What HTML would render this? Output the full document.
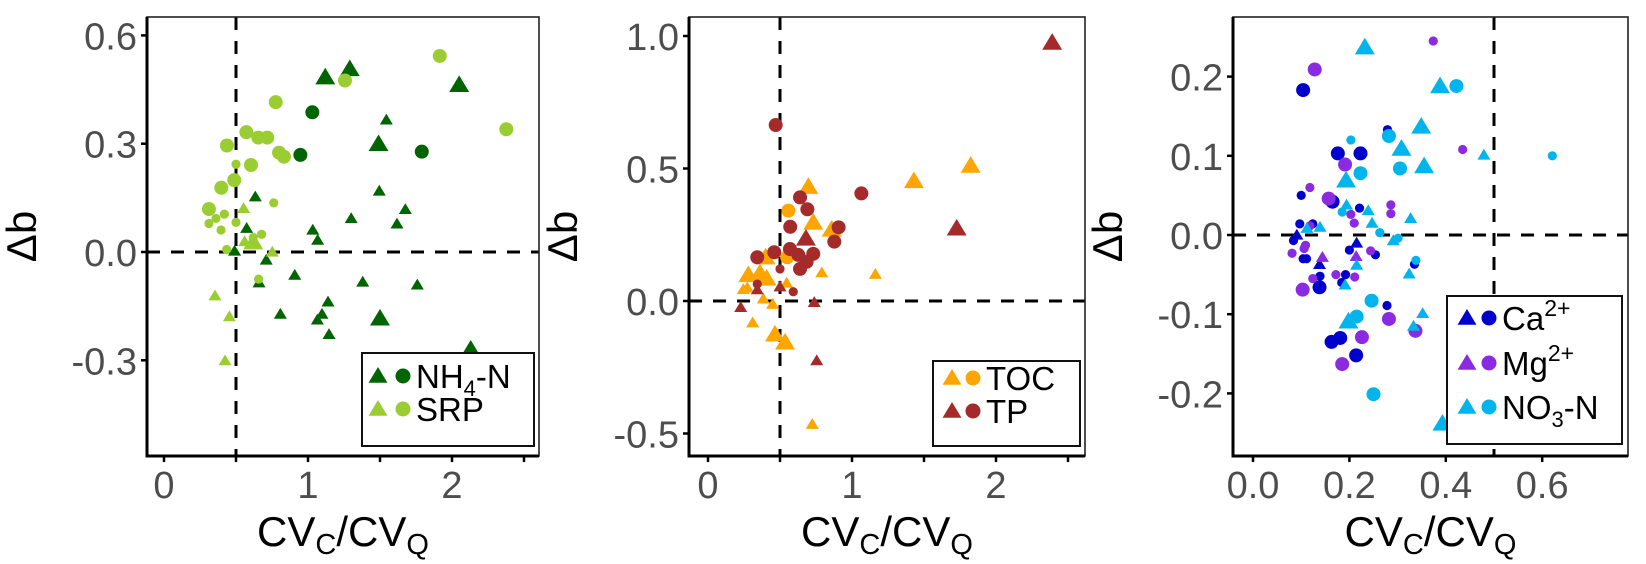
<!DOCTYPE html>
<html><head><meta charset="utf-8"><style>
html,body{margin:0;padding:0;background:#fff;width:1646px;height:564px;overflow:hidden}
svg{display:block;font-family:"Liberation Sans",Arial,sans-serif}
</style></head><body>
<svg id="chart" width="1646" height="564" viewBox="0 0 1646 564" xmlns="http://www.w3.org/2000/svg"></svg>
<script>
// ---------- Panel 1 data (NH4-N, SRP) ----------
const nh4Shape = ['t','t','t','t','t','t','c','c','c','t','t','t','t','t','t','t','t','t','t','t','t','t','t','t','t','t','t','t','t'];
const nh4Size  = [1,1,1,1,1,1,1,1,1,0,0,0,0,0,0,0,0,0,0,0,0,0,0,0,0,0,0,0,0];
const nh4X = [1.12,1.29,2.05,1.49,1.50,2.13,1.03,0.947,1.79,1.544,1.495,1.676,1.30,1.618,0.634,0.574,1.033,1.067,0.49,0.71,0.908,0.66,1.38,1.759,1.139,0.808,1.097,1.065,1.146];
const nh4Y = [0.484,0.507,0.463,0.299,-0.184,-0.27,0.387,0.269,0.278,0.366,0.169,0.118,0.093,0.078,0.153,0.066,0.061,0.033,0.003,-0.022,-0.064,-0.085,-0.083,-0.091,-0.138,-0.172,-0.172,-0.188,-0.228];
const srpShape = ['c','c','c','c','c','c','c','c','c','c','c','c','c','c','c','c','c','c','c','c','c','c','c','c','c','t','t','t','t','t','t','t'];
const srpSize  = [1,1,1,1,1,1,1,1,1,1,1,1,1,1,0,0,0,0,0,0,0,0,0,0,0,0,0,1,0,0,0,0];
const srpX = [1.915,1.257,0.776,2.377,0.572,0.655,0.717,0.437,0.799,0.833,0.604,0.488,0.398,0.312,0.50,0.762,0.419,0.361,0.312,0.50,0.396,0.678,0.62,0.435,0.657,0.553,0.56,0.62,0.752,0.354,0.454,0.424];
const srpY = [0.543,0.475,0.415,0.340,0.332,0.317,0.317,0.295,0.275,0.264,0.241,0.199,0.178,0.119,0.243,0.136,0.105,0.093,0.079,0.082,0.061,0.049,0.04,0.007,-0.075,0.121,0.029,0.027,0.0,-0.121,-0.179,-0.301];
// ---------- Panel 2 data (TOC, TP) ----------
const tocShape = ['t','t','t','t','t','t','t','t','t','t','t','c','c','t','t','t','t','t','t','t','t','t'];
const tocSize  = [1,1,1,1,1,1,1,1,1,1,1,1,1,0,0,0,0,0,0,0,0,0];
const tocX = [0.697,1.43,1.824,0.731,0.859,0.28,0.361,0.407,0.465,0.535,0.40,0.558,0.55,0.79,1.162,0.245,0.273,0.546,0.384,0.449,0.31,0.724];
const tocY = [0.431,0.453,0.511,0.296,0.27,0.098,0.105,0.085,-0.126,-0.156,0.165,0.341,0.165,0.107,0.101,0.044,0.05,0.068,0.008,-0.012,-0.082,-0.465];
const tpShape = ['t','t','t','c','c','c','c','c','c','c','c','c','c','c','c','c','c','c','c','c','t','t','t','t','t'];
const tpSize  = [1,1,1,1,1,1,1,1,1,1,1,1,1,1,1,1,1,0,0,0,0,0,0,0,0];
const tpX = [2.39,1.727,0.68,0.47,1.065,0.639,0.69,0.907,0.571,0.877,0.342,0.46,0.569,0.627,0.731,0.685,0.639,0.50,0.342,0.592,0.342,0.5,0.227,0.738,0.755];
const tpY = [0.975,0.274,0.236,0.664,0.406,0.391,0.346,0.278,0.28,0.224,0.165,0.184,0.196,0.174,0.178,0.148,0.121,0.121,0.064,0.035,0.043,0.054,-0.024,-0.005,-0.225];
// ---------- Panel 3 data (Ca, Mg, NO3-N) ----------
const caShape = ['c','c','c','c','c','c','c','c','c','c','c','c','c','c','c','c','c','c','c','c','c','c','c','t','t','t'];
const caSize  = [1,1,1,1,1,1,1,1,0,0,0,0,0,0,0,0,0,0,0,0,0,0,0,0,0,0];
const caX = [0.104,0.176,0.223,0.165,0.138,0.163,0.181,0.214,0.10,0.097,0.124,0.084,0.104,0.111,0.2,0.254,0.221,0.279,0.139,0.192,0.184,0.335,0.278,0.215,0.138,0.091];
const caY = [0.183,0.103,0.103,0.042,-0.066,-0.135,-0.13,-0.152,0.05,0.014,0.014,-0.007,-0.03,-0.03,-0.019,-0.025,0.034,0.133,-0.052,-0.05,-0.06,-0.037,-0.089,-0.01,-0.037,0.0];
const mgShape = ['c','c','c','c','c','c','c','c','c','c','c','c','c','c','c','c','c','c','c','c','c','c','c','t','t'];
const mgSize  = [1,1,1,1,1,1,1,1,0,0,0,0,0,0,0,0,0,0,0,0,0,0,0,0,0];
const mgX = [0.128,0.191,0.157,0.103,0.282,0.226,0.185,0.337,0.374,0.435,0.118,0.286,0.286,0.203,0.21,0.118,0.109,0.106,0.081,0.244,0.172,0.211,0.124,0.144,0.214];
const mgY = [0.209,0.089,0.046,-0.069,-0.106,-0.129,-0.163,-0.121,0.245,0.108,0.06,0.038,0.027,0.026,0.015,0.0115,-0.013,-0.017,-0.023,-0.02,-0.05,-0.053,-0.055,-0.028,-0.027];
const no3Shape = ['t','t','t','t','t','t','t','t','c','c','c','c','c','c','c','c','c','c','c','c','c','t','t','t','t','t','t','t','t','t','t','t','t','t'];
const no3Size  = [1,1,1,1,1,1,1,1,1,1,1,1,1,1,1,0,0,0,0,0,0,0,0,0,0,0,0,0,0,0,0,0,0,0];
const no3X = [0.232,0.388,0.349,0.308,0.355,0.193,0.198,0.393,0.422,0.282,0.223,0.305,0.246,0.215,0.25,0.203,0.621,0.185,0.263,0.301,0.338,0.479,0.194,0.239,0.247,0.327,0.112,0.139,0.291,0.215,0.324,0.191,0.352,0.333];
const no3Y = [0.237,0.188,0.137,0.109,0.087,0.069,-0.109,-0.238,0.188,0.125,0.078,0.084,-0.083,-0.103,-0.201,0.12,0.1,0.029,0.003,-0.004,-0.032,0.101,0.038,0.031,0.015,0.021,0.0085,0.01,-0.007,-0.038,-0.049,-0.063,-0.099,-0.115];
// ---------- Axis ticks ----------
const p1XTicks = [0,0.5,1,1.5,2,2.5];
const p1XLabels = ['0','','1','','2',''];
const p1YTicks = [-0.3,0,0.3,0.6];
const p1YLabels = ['-0.3','0.0','0.3','0.6'];
const p2XTicks = [0,0.5,1,1.5,2,2.5];
const p2XLabels = ['0','','1','','2',''];
const p2YTicks = [-0.5,0,0.5,1.0];
const p2YLabels = ['-0.5','0.0','0.5','1.0'];
const p3XTicks = [0,0.2,0.4,0.6];
const p3XLabels = ['0.0','0.2','0.4','0.6'];
const p3YTicks = [-0.2,-0.1,0,0.1,0.2];
const p3YLabels = ['-0.2','-0.1','0.0','0.1','0.2'];

const NS='http://www.w3.org/2000/svg';
const svg=document.getElementById('chart');
function mk(tag,attrs,parent){const e=document.createElementNS(NS,tag);for(const k in attrs)e.setAttribute(k,attrs[k]);(parent||svg).appendChild(e);return e;}

function panel(cfg){
  const g=mk('g',{});
  
  
  const sx=v=>cfg.x0+v*cfg.xk, sy=v=>cfg.y0-v*cfg.yk;
  const clipId='clip-'+cfg.name;
  const cp=mk('clipPath',{id:clipId},g);
  mk('rect',{x:cfg.L,y:cfg.T,width:cfg.R-cfg.L,height:cfg.B-cfg.T},cp);
  const plot=mk('g',{'clip-path':'url(#'+clipId+')'},g);
  // reference lines
  const vl=mk('line',{x1:sx(0.5),x2:sx(0.5),y1:cfg.T,y2:cfg.B,stroke:'#000','stroke-width':3,'stroke-dasharray':'13,11'},plot);
  
  
  const hl=mk('line',{x1:cfg.L,x2:cfg.R,y1:sy(0),y2:sy(0),stroke:'#000','stroke-width':3,'stroke-dasharray':'13,11'},plot);
  
  
  // series
  cfg.series.forEach(s=>{
    const sg=mk('g',{},plot);
    
    
    for(let i=0;i<s.x.length;i++){
      const cx=sx(s.x[i]), cy=sy(s.y[i]);
      let el;
      if(s.shape[i]==='c'){
        el=mk('circle',{cx:cx,cy:cy,r:s.size[i]?7:4.6,fill:s.color},sg);
      }else{
        const a=s.size[i]?9.5:6.2;
        el=mk('polygon',{points:`${cx},${cy-a} ${cx-a*1.05},${cy+a*0.75} ${cx+a*1.05},${cy+a*0.75}`,fill:s.color},sg);
      }
      
      
    }
  });
  // frame
  mk('rect',{x:cfg.L,y:cfg.T,width:cfg.R-cfg.L,height:cfg.B-cfg.T,fill:'none',stroke:'#222','stroke-width':1.6},g);
  const ya=mk('line',{x1:cfg.L,x2:cfg.L,y1:cfg.T,y2:cfg.B+1.5,stroke:'#000','stroke-width':3},g);
  
  
  const xa=mk('line',{x1:cfg.L-1.5,x2:cfg.R,y1:cfg.B,y2:cfg.B,stroke:'#000','stroke-width':3},g);
  
  
  // ticks
  cfg.xt.forEach((v,i)=>{
    mk('line',{x1:sx(v),x2:sx(v),y1:cfg.B,y2:cfg.B+6,stroke:'#000','stroke-width':2.5},g);
    if(cfg.xl[i]){const t=mk('text',{x:sx(v),y:cfg.B+42,'text-anchor':'middle','font-size':38,fill:'#4d4d4d'},g);t.textContent=cfg.xl[i];
      
      }
  });
  cfg.yt.forEach((v,i)=>{
    mk('line',{x1:cfg.L-6,x2:cfg.L,y1:sy(v),y2:sy(v),stroke:'#000','stroke-width':2.5},g);
    const t=mk('text',{x:cfg.L-10,y:sy(v)+14,'text-anchor':'end','font-size':38,fill:'#4d4d4d'},g);t.textContent=cfg.yl[i];
    
    
  });
  // axis titles
  const yt=mk('text',{x:0,y:0,transform:`translate(${cfg.ylabX+14},${(cfg.T+cfg.B)/2}) rotate(-90)`,'text-anchor':'middle','font-size':42,fill:'#000'},g);
  yt.textContent='Δb';
  
  
  const xt=mk('text',{x:(cfg.L+cfg.R)/2,y:546,'text-anchor':'middle','font-size':42,fill:'#000'},g);
  xt.innerHTML='CV<tspan font-size="29" dy="8">C</tspan><tspan dy="-8">/CV</tspan><tspan font-size="29" dy="8">Q</tspan>';
  
  
  // legend
  const lg=mk('g',{},g);
  
  
  const L=cfg.leg;
  mk('rect',{x:L.x,y:L.y,width:L.w,height:L.h,fill:'#fff',stroke:'#111','stroke-width':2},lg);
  cfg.series.forEach((s,i)=>{
    const cy=L.rows[i];
    const e=mk('g',{},lg);
    
    
    const a=9;
    mk('polygon',{points:`${L.tx},${cy-a} ${L.tx-a*1.05},${cy+a*0.75} ${L.tx+a*1.05},${cy+a*0.75}`,fill:s.color},e);
    mk('circle',{cx:L.cx,cy:cy,r:7.5,fill:s.color},e);
    const t=mk('text',{x:L.cx+13,y:cy+12,'font-size':33,fill:'#000'},e);
    t.innerHTML=s.label;
  });
}

panel({name:'panel-nh4-srp',L:147,T:17,R:539,B:456,x0:164,xk:144,y0:252,yk:361,
  xt:p1XTicks,xl:p1XLabels,yt:p1YTicks,yl:p1YLabels,ylabX:22,
  leg:{x:362,y:353,w:172,h:93,rows:[376,409],tx:378,cx:403},
  series:[
    {name:'nh4-n',color:'#006400',label:'NH<tspan font-size="22" dy="8">4</tspan><tspan dy="-8">-N</tspan>',x:nh4X,y:nh4Y,shape:nh4Shape,size:nh4Size},
    {name:'srp',color:'#9acd32',label:'SRP',x:srpX,y:srpY,shape:srpShape,size:srpSize}]});
panel({name:'panel-toc-tp',L:689,T:17,R:1085,B:456,x0:708,xk:144,y0:301,yk:265,
  xt:p2XTicks,xl:p2XLabels,yt:p2YTicks,yl:p2YLabels,ylabX:563,
  leg:{x:933,y:361,w:147,h:85,rows:[378,411],tx:952,cx:973},
  series:[
    {name:'toc',color:'#ffa500',label:'TOC',x:tocX,y:tocY,shape:tocShape,size:tocSize},
    {name:'tp',color:'#a52a2a',label:'TP',x:tpX,y:tpY,shape:tpShape,size:tpSize}]});
panel({name:'panel-ions-no3',L:1233,T:17,R:1628,B:456,x0:1253,xk:482,y0:235,yk:792,
  xt:p3XTicks,xl:p3XLabels,yt:p3YTicks,yl:p3YLabels,ylabX:1108,
  leg:{x:1447,y:296,w:175,h:148,rows:[318,363,407],tx:1467,cx:1489},
  series:[
    {name:'ca',color:'#0000cd',label:'Ca<tspan font-size="23" dy="-14">2+</tspan>',x:caX,y:caY,shape:caShape,size:caSize},
    {name:'mg',color:'#8a2be2',label:'Mg<tspan font-size="23" dy="-14">2+</tspan>',x:mgX,y:mgY,shape:mgShape,size:mgSize},
    {name:'no3-n',color:'#00b4ec',label:'NO<tspan font-size="22" dy="8">3</tspan><tspan dy="-8">-N</tspan>',x:no3X,y:no3Y,shape:no3Shape,size:no3Size}]});
</script>
</body></html>
